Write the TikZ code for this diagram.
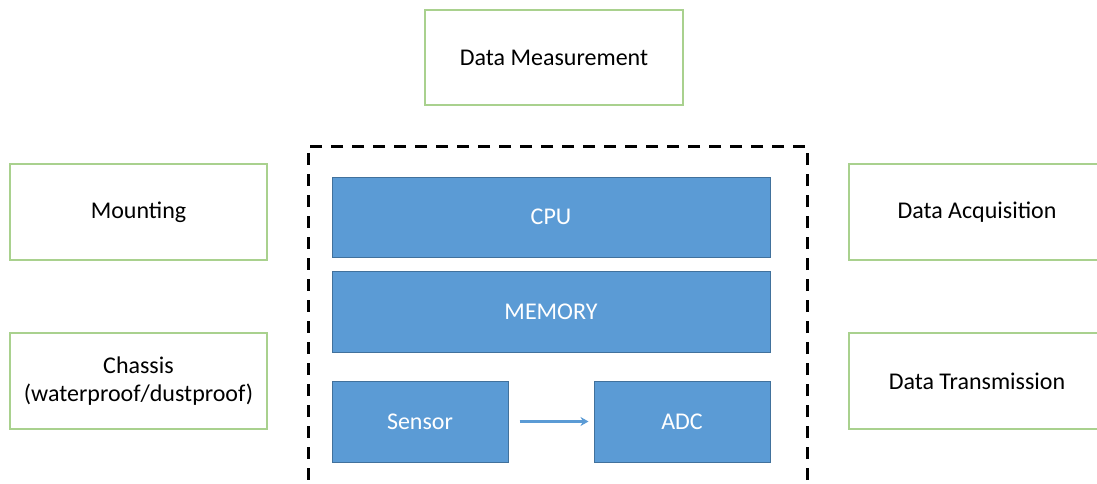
\documentclass[tikz,border=0pt]{standalone}
\usepackage{fontspec}
\setmainfont{Carlito}
\usetikzlibrary{arrows.meta}
\definecolor{blockfill}{HTML}{5B9BD5}
\definecolor{blockline}{HTML}{41719C}
\definecolor{sideline}{HTML}{A9D18E}
\begin{document}
\begin{tikzpicture}[x=1pt,y=-1pt,
  labelfont/.style={font=\fontsize{24}{28}\selectfont},
  sidebox/.style={draw=sideline,line width=1.2pt,fill=white,labelfont,align=center,
    inner sep=0pt,minimum width=257pt,minimum height=96pt},
  block/.style={draw=blockline,line width=1pt,fill=blockfill,text=white,labelfont,
    inner sep=0pt,minimum height=81pt},
  enclosure/.style={draw=black,line width=3pt,dash pattern=on 12pt off 9pt,
    inner sep=0pt,minimum width=499pt,minimum height=339pt},
  flow/.style={draw=blockfill,line width=2.2pt,-{Stealth[length=8pt,width=9pt]}}]
\useasboundingbox (0,0) rectangle (1097,484);
% outer labels
\node[sidebox,minimum width=258pt,minimum height=95pt] (meas) at (554,57.5) {Data Measurement};
\node[sidebox] (mount) at (138.5,212) {Mounting};
\node[sidebox] (chassis) at (138.5,381) {Chassis\\(waterproof/dustproof)};
% right-hand boxes run past the page edge
\node[sidebox,minimum width=261pt] (acq) at (979.5,212) {};
\node[labelfont] (acqtext) at (977,212) {Data Acquisition};
\node[sidebox,minimum width=261pt] (trans) at (979.5,381) {};
\node[labelfont] (transtext) at (977,381) {Data Transmission};
% device enclosure, its lower edge at the page edge
\node[enclosure] (device) at (557.5,315.5) {};
% internal blocks
\node[block,minimum width=438pt,minimum height=80pt] (cpu) at (551,217) {CPU};
\node[block,minimum width=438pt] (mem) at (551,311.5) {MEMORY};
\node[block,minimum width=176pt] (sensor) at (420,421.5) {Sensor};
\node[block,minimum width=176pt] (adc) at (682,421.5) {ADC};
\draw[flow] ([xshift=11pt]sensor.east) -- ([xshift=-5pt]adc.west);
\end{tikzpicture}
\end{document}
